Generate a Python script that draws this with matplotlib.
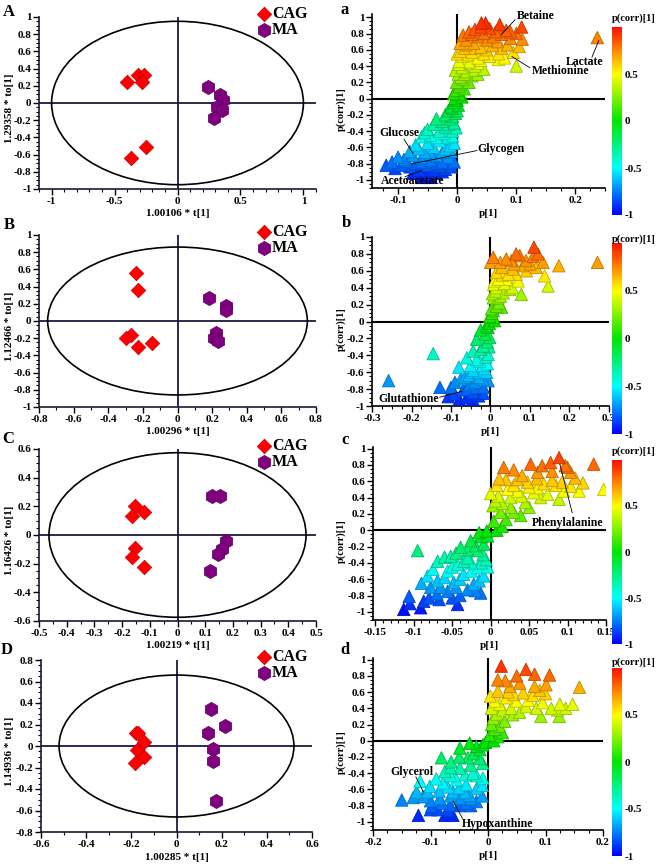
import numpy as np
import matplotlib
matplotlib.use("Agg")
import matplotlib.pyplot as plt
from matplotlib.patches import Ellipse
from matplotlib.colors import LinearSegmentedColormap, Normalize
from matplotlib.ticker import MultipleLocator, AutoMinorLocator, FuncFormatter

plt.rcParams['font.family'] = ['Liberation Serif', 'DejaVu Serif']
plt.rcParams['font.weight'] = 'bold'
plt.rcParams['axes.unicode_minus'] = False

# ---------------- score plots (A-D) ----------------
A_cag_x = [-0.40, -0.31, -0.27, -0.28, -0.37, -0.25]
A_cag_y = [0.25, 0.33, 0.33, 0.24, -0.64, -0.51]
A_ma_x = [0.24, 0.34, 0.36, 0.31, 0.35, 0.29]
A_ma_y = [0.19, 0.09, 0.03, -0.05, -0.08, -0.18]

B_cag_x = [-0.24, -0.23, -0.27, -0.30, -0.23, -0.15]
B_cag_y = [0.56, 0.36, -0.16, -0.20, -0.30, -0.26]
B_ma_x = [0.18, 0.28, 0.28, 0.22, 0.21, 0.235]
B_ma_y = [0.27, 0.17, 0.13, -0.14, -0.20, -0.235]

C_cag_x = [-0.154, -0.166, -0.12, -0.154, -0.164, -0.12]
C_cag_y = [0.20, 0.13, 0.16, -0.09, -0.15, -0.22]
C_ma_x = [0.125, 0.155, 0.175, 0.16, 0.147, 0.117]
C_ma_y = [0.27, 0.27, -0.04, -0.10, -0.13, -0.25]

D_cag_x = [-0.18, -0.17, -0.145, -0.175, -0.145, -0.185]
D_cag_y = [0.125, 0.125, 0.04, -0.04, -0.10, -0.155]
D_ma_x = [0.153, 0.214, 0.14, 0.16, 0.16, 0.173]
D_ma_y = [0.345, 0.19, 0.125, -0.03, -0.14, -0.51]

ellipse_rx = [1.0, 0.75, 0.464, 0.52]
ellipse_ry = [0.95, 0.86, 0.574, 0.66]

score_xlabels = ["1.00106 * t[1]", "1.00296 * t[1]", "1.00219 * t[1]", "1.00285 * t[1]"]
score_ylabels = ["1.29358 * to[1]", "1.12466 * to[1]", "1.16426 * to[1]", "1.14936 * to[1]"]

# ---------------- S-plots (a-d): (p[1], p(corr)[1]) ----------------
a_pts = [
    (0.041, 0.93), (0.048, 0.93), (0.072, 0.91), (0.109, 0.88), (0.030, 0.85), (0.055, 0.86),
    (0.083, 0.84), (0.020, 0.82), (0.045, 0.80), (0.065, 0.82), (0.100, 0.80), (0.010, 0.78),
    (0.035, 0.76), (0.075, 0.79), (0.090, 0.74), (0.110, 0.73), (0.015, 0.72), (0.050, 0.72),
    (0.068, 0.70), (0.005, 0.68), (0.028, 0.68), (0.060, 0.65), (0.085, 0.66), (0.105, 0.64),
    (0.040, 0.63), (0.012, 0.62), (0.095, 0.57), (0.237, 0.75),
    (0.005, 0.58), (0.025, 0.57), (0.045, 0.55), (0.070, 0.55), (0.080, 0.50), (0.010, 0.52),
    (0.035, 0.50), (0.040, 0.47), (0.100, 0.40), (0.035, 0.43), (0.020, 0.45), (0.003, 0.46),
    (0.030, 0.40), (0.045, 0.36), (0.008, 0.38), (0.015, 0.33), (0.025, 0.28), (0.035, 0.30),
    (0.002, 0.30), (0.010, 0.24), (0.020, 0.20), (0.005, 0.18), (0.012, 0.12), (-0.002, 0.10),
    (0.004, 0.05), (0.008, 0.02), (-0.004, 0.00),
    (-0.005, -0.05), (0.002, -0.08), (-0.010, -0.10), (-0.015, -0.15), (0.000, -0.15),
    (-0.020, -0.20), (-0.008, -0.22), (-0.025, -0.28), (-0.035, -0.25), (-0.005, -0.30),
    (-0.040, -0.32), (-0.020, -0.35), (-0.050, -0.38), (-0.030, -0.40), (-0.008, -0.40),
    (-0.055, -0.42), (-0.045, -0.45), (-0.015, -0.48), (-0.060, -0.47), (-0.030, -0.52),
    (-0.005, -0.55), (-0.050, -0.55), (-0.070, -0.57), (-0.040, -0.60), (-0.065, -0.62),
    (-0.020, -0.62), (-0.080, -0.65), (-0.010, -0.65), (-0.055, -0.66), (-0.075, -0.70),
    (-0.035, -0.70), (-0.100, -0.72), (-0.015, -0.72), (-0.060, -0.73), (-0.110, -0.78),
    (-0.085, -0.77), (-0.045, -0.76), (-0.025, -0.78), (-0.005, -0.78), (-0.120, -0.82),
    (-0.095, -0.82), (-0.070, -0.80), (-0.050, -0.82), (-0.030, -0.83), (-0.010, -0.84),
    (-0.065, -0.88), (-0.040, -0.88), (-0.020, -0.87), (-0.075, -0.92), (-0.055, -0.93),
    (-0.035, -0.92), (-0.060, -0.97), (-0.045, -0.97),
    (0.000, 0.55), (0.003, 0.42), (-0.003, 0.35), (0.006, 0.26), (-0.001, 0.20), (0.003, 0.15),
    (-0.006, 0.06), (0.000, -0.02), (-0.008, -0.12), (-0.003, -0.18), (-0.012, -0.25),
    (-0.015, -0.32), (-0.002, -0.36), (-0.022, -0.43), (-0.008, -0.46), (-0.035, -0.48),
    (-0.012, -0.58), (-0.025, -0.66), (-0.045, -0.68), (-0.090, -0.75), (-0.060, -0.78),
    (-0.035, -0.80), (-0.015, -0.79), (-0.080, -0.84), (-0.105, -0.86), (-0.050, -0.90),
    (-0.025, -0.90), (0.015, 0.66), (0.025, 0.62), (0.050, 0.60), (0.075, 0.62), (0.060, 0.76),
    (0.025, 0.79), (0.040, 0.88), (0.090, 0.82), (0.018, 0.54), (0.055, 0.52), (0.030, 0.35),
    (0.012, 0.30), (0.070, 0.48),
]
b_pts = [
    (0.271, 0.70), (0.173, 0.66), (0.110, 0.88), (0.007, 0.76), (-0.258, -0.70), (-0.145, -0.38),
    (-0.128, -0.78), (-0.107, -0.89), (-0.079, -0.92),
    (0.053, 0.72), (0.074, 0.78), (0.108, 0.77), (0.133, 0.70), (0.137, 0.54), (0.146, 0.42),
    (0.078, 0.32), (0.091, 0.60), (0.040, 0.50), (0.028, 0.64), (0.057, 0.62), (0.116, 0.64),
    (0.070, 0.48), (0.015, 0.58), (0.008, 0.44), (0.032, 0.34), (0.019, 0.28), (0.028, 0.17),
    (0.007, 0.13), (0.010, 0.01), (0.049, 0.38), (0.100, 0.68), (0.082, 0.66), (0.007, 0.28),
    (0.003, 0.15), (-0.002, 0.06), (0.020, 0.50), (0.045, 0.56), (0.012, 0.36), (0.022, 0.22),
    (-0.006, -0.07), (-0.014, -0.15), (-0.002, -0.19), (-0.035, -0.21), (-0.018, -0.29),
    (-0.044, -0.35), (-0.006, -0.39), (-0.060, -0.43), (-0.027, -0.47), (-0.080, -0.54),
    (-0.044, -0.58), (-0.010, -0.60), (-0.065, -0.66), (-0.030, -0.66), (-0.006, -0.70),
    (-0.090, -0.72), (-0.052, -0.74), (-0.018, -0.78), (-0.069, -0.81), (-0.044, -0.84),
    (-0.018, -0.85), (-0.060, -0.90), (-0.100, -0.78), (-0.025, -0.10), (-0.004, -0.30),
    (-0.020, -0.52), (-0.040, -0.72), (-0.008, -0.50),
    (0.000, 0.70), (0.025, 0.70), (0.060, 0.68), (0.090, 0.72), (0.065, 0.56), (0.030, 0.55),
    (0.010, 0.48), (0.035, 0.45), (0.055, 0.40), (0.015, 0.40), (0.025, 0.30), (0.005, 0.33),
    (0.015, 0.18), (0.003, 0.10), (0.008, 0.05), (-0.003, -0.02), (-0.010, -0.05),
    (-0.008, -0.24), (-0.025, -0.33), (-0.012, -0.42), (-0.035, -0.45), (-0.050, -0.52),
    (-0.015, -0.55), (-0.030, -0.60), (-0.055, -0.64), (-0.075, -0.68), (-0.020, -0.68),
    (-0.035, -0.78), (-0.060, -0.80), (-0.090, -0.86), (-0.030, -0.88), (-0.045, -0.92),
    (0.120, 0.80), (0.065, 0.80), (0.040, 0.74),
]
c_pts = [
    (0.089, 0.89), (0.078, 0.83), (0.067, 0.79), (0.052, 0.81), (0.097, 0.79), (0.104, 0.71),
    (0.134, 0.81), (0.017, 0.77), (0.030, 0.74), (0.011, 0.63), (0.061, 0.71), (0.041, 0.67),
    (0.080, 0.61), (0.093, 0.59), (0.115, 0.48), (0.147, 0.50), (0.069, 0.57), (0.048, 0.59),
    (0.022, 0.50), (0.035, 0.48), (0.056, 0.46), (0.089, 0.38), (0.074, 0.44), (0.006, 0.36),
    (0.045, 0.34), (0.026, 0.28), (0.013, 0.22), (0.039, 0.18), (0.004, 0.11), (0.015, 0.05),
    (0.026, 0.40), (0.061, 0.52), (0.104, 0.54), (0.095, 0.48), (0.008, 0.55), (0.020, 0.62),
    (-0.015, -0.03), (-0.004, -0.07), (-0.026, -0.13), (-0.009, -0.17), (-0.039, -0.21),
    (-0.095, -0.25), (-0.017, -0.25), (-0.052, -0.32), (-0.030, -0.34), (-0.006, -0.36),
    (-0.069, -0.38), (-0.043, -0.42), (-0.017, -0.46), (-0.056, -0.50), (-0.082, -0.56),
    (-0.035, -0.54), (-0.009, -0.56), (-0.069, -0.62), (-0.048, -0.64), (-0.022, -0.66),
    (-0.078, -0.70), (-0.056, -0.75), (-0.030, -0.73), (-0.013, -0.77), (-0.106, -0.81),
    (-0.087, -0.87), (-0.067, -0.85), (-0.043, -0.91), (-0.091, -0.95), (-0.113, -0.97),
    (-0.004, -0.45), (-0.025, -0.40), (-0.010, -0.30),
    (0.000, 0.45), (0.010, 0.42), (0.003, 0.30), (0.015, 0.33), (0.030, 0.55), (0.050, 0.53),
    (0.035, 0.62), (0.060, 0.63), (0.085, 0.55), (0.120, 0.58), (0.110, 0.64), (0.100, 0.77),
    (0.080, 0.72), (0.065, 0.40), (0.040, 0.42), (0.050, 0.28), (0.030, 0.22), (0.020, 0.13),
    (0.008, 0.00), (-0.005, -0.01), (-0.012, -0.08), (-0.020, -0.19), (-0.030, -0.24),
    (-0.045, -0.28), (-0.060, -0.33), (-0.035, -0.38), (-0.012, -0.40), (-0.050, -0.45),
    (-0.075, -0.48), (-0.025, -0.50), (-0.060, -0.58), (-0.040, -0.60), (-0.015, -0.62),
    (-0.090, -0.65), (-0.065, -0.70), (-0.045, -0.70), (-0.020, -0.74), (-0.070, -0.78),
    (-0.040, -0.80), (-0.080, -0.83), (-0.105, -0.90), (-0.050, -0.83),
]
d_pts = [
    (0.023, 0.92), (0.066, 0.88), (0.081, 0.82), (0.107, 0.81), (0.017, 0.75), (0.159, 0.66),
    (0.055, 0.71), (0.101, 0.69), (0.038, 0.67), (0.081, 0.67), (0.017, 0.61), (0.061, 0.59),
    (0.078, 0.56), (0.032, 0.53), (0.012, 0.49), (0.049, 0.49), (0.095, 0.47), (0.147, 0.45),
    (0.121, 0.38), (0.110, 0.40), (0.066, 0.42), (0.092, 0.30), (0.124, 0.30), (0.026, 0.38),
    (0.043, 0.32), (0.009, 0.28), (0.029, 0.24), (0.012, 0.14), (0.017, 0.05), (0.003, 0.07),
    (0.084, 0.40), (0.035, 0.60), (0.006, 0.40),
    (-0.009, -0.05), (-0.032, -0.03), (-0.049, -0.09), (-0.014, -0.11), (-0.081, -0.21),
    (-0.064, -0.26), (-0.035, -0.21), (-0.009, -0.28), (-0.049, -0.34), (-0.075, -0.38),
    (-0.026, -0.40), (-0.009, -0.46), (-0.055, -0.48), (-0.118, -0.50), (-0.101, -0.56),
    (-0.078, -0.52), (-0.038, -0.54), (-0.020, -0.59), (-0.124, -0.63), (-0.061, -0.63),
    (-0.032, -0.67), (-0.150, -0.73), (-0.113, -0.69), (-0.084, -0.71), (-0.049, -0.71),
    (-0.020, -0.75), (-0.098, -0.81), (-0.066, -0.79), (-0.038, -0.77), (-0.087, -0.85),
    (-0.121, -0.92), (-0.075, -0.92), (-0.061, -0.92),
    (0.004, 0.55), (0.020, 0.45), (0.040, 0.40), (0.055, 0.35), (0.070, 0.50), (0.100, 0.58),
    (0.125, 0.45), (0.135, 0.40), (0.045, 0.57), (0.030, 0.74), (0.050, 0.80), (0.090, 0.62),
    (0.015, 0.33), (0.020, 0.18), (0.006, 0.20), (0.025, 0.10), (0.010, 0.00), (-0.004, -0.02),
    (-0.020, -0.07), (-0.025, -0.16), (-0.050, -0.20), (-0.015, -0.22), (-0.030, -0.30),
    (-0.065, -0.33), (-0.040, -0.42), (-0.020, -0.43), (-0.065, -0.43), (-0.090, -0.47),
    (-0.050, -0.58), (-0.070, -0.57), (-0.010, -0.55), (-0.105, -0.63), (-0.085, -0.62),
    (-0.040, -0.64), (-0.130, -0.70), (-0.065, -0.68), (-0.030, -0.72), (-0.010, -0.68),
    (-0.100, -0.74), (-0.080, -0.77), (-0.050, -0.80), (-0.030, -0.80), (-0.070, -0.86),
    (-0.100, -0.85),
]

# annotation: (label, text x, text y, line start x, y, line end x, y)
a_notes = [("Betaine", 0.133, 1.01, 0.098, 0.97, 0.075, 0.79),
           ("Methionine", 0.1746, 0.337, 0.1226, 0.38, 0.0927, 0.517),
           ("Lactate", 0.2147, 0.451, 0.228, 0.51, 0.2395, 0.713),
           ("Glucose", -0.0971, -0.426, -0.0898, -0.50, -0.075, -0.672),
           ("Glycogen", 0.0734, -0.619, 0.0333, -0.64, -0.0768, -0.803),
           ("Acetoacetate", -0.0746, -1.02, -0.088, -0.96, -0.06, -0.886)]
b_notes = [("Glutathione", -0.2085, -0.92, -0.1286, -0.896, -0.0739, -0.828)]
c_notes = [("Phenylalanine", 0.1004, 0.09, 0.106, 0.216, 0.09, 0.81)]
d_notes = [("Glycerol", -0.132, -0.38, -0.1254, -0.446, -0.1127, -0.627),
           ("Hypoxanthine", 0.0173, -1.023, -0.0444, -0.957, -0.0607, -0.743)]

cbar_ticks = [0.5, 0, -0.5, -1]

# ---------------- drawing ----------------
W, H = 660, 865
fig = plt.figure(figsize=(W / 100, H / 100), dpi=100)


def rect(l, t, r, b):
    return [l / W, 1 - b / H, (r - l) / W, (b - t) / H]


fmt = FuncFormatter(lambda v, p: f"{round(v, 3) + 0:g}")
TFS = 8
cmap = LinearSegmentedColormap.from_list(
    "pc", ["#0000ff", "#00ffff", "#00e600", "#ffff00", "#ff1000"])
norm = Normalize(-1, 1)


def style_axes(ax, xmaj, xminor, ymaj, yminor):
    for s in ["top", "right"]:
        ax.spines[s].set_visible(False)
    for s in ["left", "bottom"]:
        ax.spines[s].set_linewidth(1.2)
        ax.spines[s].set_color("#1a1a33")
    ax.xaxis.set_major_locator(MultipleLocator(xmaj))
    ax.yaxis.set_major_locator(MultipleLocator(ymaj))
    ax.xaxis.set_minor_locator(AutoMinorLocator(xminor))
    ax.yaxis.set_minor_locator(AutoMinorLocator(yminor))
    ax.xaxis.set_major_formatter(fmt)
    ax.yaxis.set_major_formatter(fmt)
    ax.tick_params(which="major", length=4, width=1, labelsize=TFS, pad=1.5)
    ax.tick_params(which="minor", length=2, width=0.8)
    for lab in ax.get_xticklabels() + ax.get_yticklabels():
        lab.set_fontweight("bold")
    ax.set_facecolor("none")


score_cfg = [
    ((39, 17, 316, 189), (-1.1, 1.1), (-1, 1), 0.5, 5, 0.2, 4, "A", (9, 12),
     A_cag_x, A_cag_y, A_ma_x, A_ma_y),
    ((39, 235, 316, 407), (-0.8, 0.8), (-1, 1), 0.2, 2, 0.2, 4, "B", (9, 225),
     B_cag_x, B_cag_y, B_ma_x, B_ma_y),
    ((39, 449, 316, 621), (-0.5, 0.5), (-0.6, 0.6), 0.1, 2, 0.2, 4, "C", (8, 439),
     C_cag_x, C_cag_y, C_ma_x, C_ma_y),
    ((41, 660, 312, 832), (-0.6, 0.6), (-0.8, 0.8), 0.2, 2, 0.2, 4, "D", (7, 650),
     D_cag_x, D_cag_y, D_ma_x, D_ma_y),
]

for i, (rp, xl, yl, xmaj, xmn, ymaj, ymn, letter, lpos, cx, cy, mx, my) in enumerate(score_cfg):
    ax = fig.add_axes(rect(*rp))
    ax.set_xlim(xl)
    ax.set_ylim(yl)
    style_axes(ax, xmaj, xmn, ymaj, ymn)
    ax.axhline(0, color="#1a1a40", lw=1.3, zorder=1)
    ax.axvline(0, color="#1a1a40", lw=1.3, zorder=1)
    ax.add_patch(Ellipse((0, 0), 2 * ellipse_rx[i], 2 * ellipse_ry[i], fill=False,
                         ec="black", lw=1.2, zorder=1))
    ax.scatter(cx, cy, marker="D", s=55, c="#ff0000", edgecolors="#c00000",
               linewidths=0.5, zorder=3, label="CAG")
    ax.scatter(mx, my, marker="h", s=105, c="#800080", edgecolors="#5a005a",
               linewidths=0.5, zorder=3, label="MA")
    l, t, r, b = rp
    ax.legend(loc="upper left", bbox_to_anchor=(256 / W, 1 - (t - 11) / H),
              bbox_transform=fig.transFigure, frameon=False, handletextpad=0.0,
              labelspacing=0.0, borderpad=0, borderaxespad=0, handlelength=1.0,
              prop={"family": "Liberation Serif", "weight": "bold", "size": 11.5})
    fig.text((l + r) / 2 / W, 1 - (b + 25) / H, score_xlabels[i], ha="center",
             va="center", fontsize=TFS, fontweight="bold")
    fig.text(10 / W, 1 - ((t + b) / 2 + 5) / H, score_ylabels[i], ha="center",
             va="center", rotation=90, fontsize=TFS, fontweight="bold")
    fig.text(lpos[0] / W, 1 - lpos[1] / H, letter, ha="center", va="center",
             fontsize=12, fontweight="bold")

s_cfg = [
    ((372, 14, 605, 188), (-0.144, 0.25), (-1.1, 1.04), 0.1, 4, "a", (345, 10), a_pts, a_notes,
     (612, 27, 622, 215), 18),
    ((372, 237, 609, 406), (-0.3, 0.3), (-1, 1), 0.1, 4, "b", (346, 223), b_pts, b_notes,
     (612, 243, 622, 434), 239),
    ((373, 447, 606, 620), (-0.153, 0.15), (-1.1, 1.02), 0.05, 5, "c", (345, 440), c_pts, c_notes,
     (612, 460, 622, 644), 451),
    ((373, 658, 603, 830), (-0.2, 0.2), (-1.1, 1.02), 0.1, 4, "d", (345, 650), d_pts, d_notes,
     (612, 668, 622, 856), 662),
]

for rp, xl, yl, xmaj, xmn, letter, lpos, pts, notes, crp, cl_y in s_cfg:
    ax = fig.add_axes(rect(*rp))
    ax.set_xlim(xl)
    ax.set_ylim(yl)
    style_axes(ax, xmaj, xmn, 0.2, 4)
    ax.spines["left"].set_color("black")
    ax.spines["bottom"].set_color("black")
    ax.axhline(0, color="black", lw=1.5, zorder=1)
    ax.axvline(0, color="black", lw=1.5, zorder=1)
    px = np.array([p[0] for p in pts])
    py = np.array([p[1] for p in pts])
    order = np.argsort(py)
    fc = cmap(norm(py[order]))
    ec = fc.copy()
    ec[:, :3] *= 0.75
    ax.scatter(px[order], py[order], marker="^", s=80, c=fc, edgecolors=ec,
               linewidths=0.6, zorder=3)
    for lab, tx, ty, x0, y0, x1, y1 in notes:
        ax.plot([x0, x1], [y0, y1], color="black", lw=0.6, zorder=4)
        ax.text(tx, ty, lab, ha="center", va="center", fontsize=8.5,
                fontweight="bold", zorder=5)
    l, t, r, b = rp
    fig.text((l + r) / 2 / W, 1 - (b + 26) / H, "p[1]", ha="center", va="center",
             fontsize=TFS, fontweight="bold")
    fig.text(341 / W, 1 - ((t + b) / 2 + 8) / H, "p(corr)[1]", ha="center",
             va="center", rotation=90, fontsize=7.5, fontweight="bold")
    fig.text(lpos[0] / W, 1 - lpos[1] / H, letter, ha="center", va="center",
             fontsize=12, fontweight="bold")
    cax = fig.add_axes(rect(*crp))
    grad = np.linspace(-1, 1, 256).reshape(-1, 1)
    cax.imshow(grad, aspect="auto", cmap=cmap, norm=norm, origin="lower",
               extent=(0, 1, -1, 1))
    cax.set_xlim(0, 1)
    cax.set_ylim(-1, 1)
    cax.set_xticks([])
    cax.yaxis.tick_right()
    cax.set_yticks(cbar_ticks)
    cax.yaxis.set_major_formatter(fmt)
    cax.tick_params(axis="y", length=0, labelsize=TFS, pad=2)
    for lab in cax.get_yticklabels():
        lab.set_fontweight("bold")
    for s in cax.spines.values():
        s.set_visible(False)
    fig.text(612 / W, 1 - cl_y / H, "p(corr)[1]", ha="left", va="center",
             fontsize=7.5, fontweight="bold")

fig.savefig("out.png", dpi=100)
